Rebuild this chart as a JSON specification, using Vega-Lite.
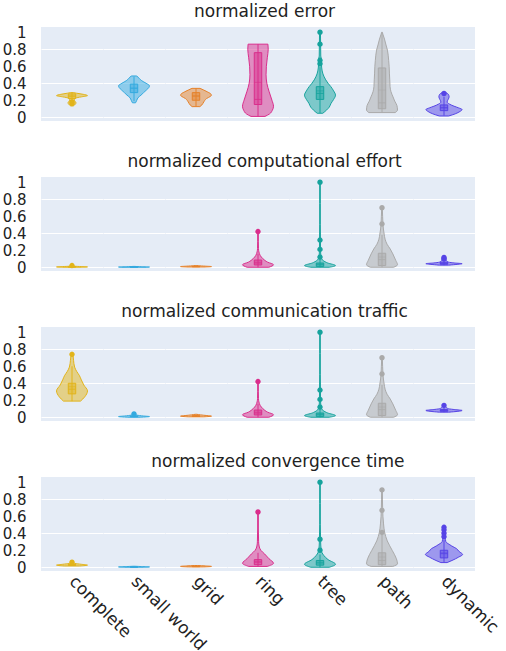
{
"$schema": "https://vega.github.io/schema/vega-lite/v6.json",
"background": "white",
"padding": {"left": 2, "top": 3, "right": 0, "bottom": 0},
"datasets": {
"d": [
{"m":"e","c":"complete","k":"v","y":0.135,"w":0.1,"nw":-0.1},
{"m":"e","c":"complete","k":"v","y":0.155,"w":0.22,"nw":-0.22},
{"m":"e","c":"complete","k":"v","y":0.17,"w":0.26,"nw":-0.26},
{"m":"e","c":"complete","k":"v","y":0.19,"w":0.18,"nw":-0.18},
{"m":"e","c":"complete","k":"v","y":0.21,"w":0.15,"nw":-0.15},
{"m":"e","c":"complete","k":"v","y":0.225,"w":0.22,"nw":-0.22},
{"m":"e","c":"complete","k":"v","y":0.24,"w":0.6,"nw":-0.6},
{"m":"e","c":"complete","k":"v","y":0.255,"w":1,"nw":-1},
{"m":"e","c":"complete","k":"v","y":0.27,"w":0.72,"nw":-0.72},
{"m":"e","c":"complete","k":"v","y":0.283,"w":0.3,"nw":-0.3},
{"m":"e","c":"complete","k":"v","y":0.29,"w":0.08,"nw":-0.08},
{"m":"e","c":"small world","k":"v","y":0.17,"w":0.1,"nw":-0.1},
{"m":"e","c":"small world","k":"v","y":0.2,"w":0.18,"nw":-0.18},
{"m":"e","c":"small world","k":"v","y":0.23,"w":0.26,"nw":-0.26},
{"m":"e","c":"small world","k":"v","y":0.26,"w":0.45,"nw":-0.45},
{"m":"e","c":"small world","k":"v","y":0.29,"w":0.62,"nw":-0.62},
{"m":"e","c":"small world","k":"v","y":0.32,"w":0.8,"nw":-0.8},
{"m":"e","c":"small world","k":"v","y":0.35,"w":0.96,"nw":-0.96},
{"m":"e","c":"small world","k":"v","y":0.37,"w":1,"nw":-1},
{"m":"e","c":"small world","k":"v","y":0.4,"w":0.78,"nw":-0.78},
{"m":"e","c":"small world","k":"v","y":0.43,"w":0.5,"nw":-0.5},
{"m":"e","c":"small world","k":"v","y":0.46,"w":0.32,"nw":-0.32},
{"m":"e","c":"small world","k":"v","y":0.486,"w":0.18,"nw":-0.18},
{"m":"e","c":"grid","k":"v","y":0.125,"w":0.25,"nw":-0.25},
{"m":"e","c":"grid","k":"v","y":0.145,"w":0.38,"nw":-0.38},
{"m":"e","c":"grid","k":"v","y":0.18,"w":0.5,"nw":-0.5},
{"m":"e","c":"grid","k":"v","y":0.22,"w":0.68,"nw":-0.68},
{"m":"e","c":"grid","k":"v","y":0.245,"w":0.92,"nw":-0.92},
{"m":"e","c":"grid","k":"v","y":0.26,"w":1,"nw":-1},
{"m":"e","c":"grid","k":"v","y":0.28,"w":0.92,"nw":-0.92},
{"m":"e","c":"grid","k":"v","y":0.3,"w":0.72,"nw":-0.72},
{"m":"e","c":"grid","k":"v","y":0.32,"w":0.5,"nw":-0.5},
{"m":"e","c":"grid","k":"v","y":0.34,"w":0.26,"nw":-0.26},
{"m":"e","c":"ring","k":"v","y":0.01,"w":0.45,"nw":-0.45},
{"m":"e","c":"ring","k":"v","y":0.04,"w":0.75,"nw":-0.75},
{"m":"e","c":"ring","k":"v","y":0.08,"w":0.92,"nw":-0.92},
{"m":"e","c":"ring","k":"v","y":0.13,"w":1,"nw":-1},
{"m":"e","c":"ring","k":"v","y":0.2,"w":0.9,"nw":-0.9},
{"m":"e","c":"ring","k":"v","y":0.3,"w":0.72,"nw":-0.72},
{"m":"e","c":"ring","k":"v","y":0.4,"w":0.57,"nw":-0.57},
{"m":"e","c":"ring","k":"v","y":0.5,"w":0.52,"nw":-0.52},
{"m":"e","c":"ring","k":"v","y":0.6,"w":0.54,"nw":-0.54},
{"m":"e","c":"ring","k":"v","y":0.7,"w":0.6,"nw":-0.6},
{"m":"e","c":"ring","k":"v","y":0.8,"w":0.66,"nw":-0.66},
{"m":"e","c":"ring","k":"v","y":0.86,"w":0.64,"nw":-0.64},
{"m":"e","c":"tree","k":"v","y":0.047,"w":0.18,"nw":-0.18},
{"m":"e","c":"tree","k":"v","y":0.086,"w":0.43,"nw":-0.43},
{"m":"e","c":"tree","k":"v","y":0.12,"w":0.6,"nw":-0.6},
{"m":"e","c":"tree","k":"v","y":0.163,"w":0.71,"nw":-0.71},
{"m":"e","c":"tree","k":"v","y":0.21,"w":0.88,"nw":-0.88},
{"m":"e","c":"tree","k":"v","y":0.26,"w":1,"nw":-1},
{"m":"e","c":"tree","k":"v","y":0.31,"w":0.88,"nw":-0.88},
{"m":"e","c":"tree","k":"v","y":0.36,"w":0.7,"nw":-0.7},
{"m":"e","c":"tree","k":"v","y":0.4,"w":0.52,"nw":-0.52},
{"m":"e","c":"tree","k":"v","y":0.44,"w":0.37,"nw":-0.37},
{"m":"e","c":"tree","k":"v","y":0.51,"w":0.19,"nw":-0.19},
{"m":"e","c":"tree","k":"v","y":0.58,"w":0.11,"nw":-0.11},
{"m":"e","c":"tree","k":"v","y":0.63,"w":0.09,"nw":-0.09},
{"m":"e","c":"tree","k":"v","y":0.67,"w":0.1,"nw":-0.1},
{"m":"e","c":"tree","k":"v","y":0.72,"w":0.05,"nw":-0.05},
{"m":"e","c":"tree","k":"v","y":0.85,"w":0.04,"nw":-0.04},
{"m":"e","c":"tree","k":"v","y":1,"w":0.03,"nw":-0.03},
{"m":"e","c":"path","k":"v","y":0.055,"w":0.85,"nw":-0.85},
{"m":"e","c":"path","k":"v","y":0.085,"w":1,"nw":-1},
{"m":"e","c":"path","k":"v","y":0.14,"w":0.96,"nw":-0.96},
{"m":"e","c":"path","k":"v","y":0.19,"w":0.82,"nw":-0.82},
{"m":"e","c":"path","k":"v","y":0.24,"w":0.71,"nw":-0.71},
{"m":"e","c":"path","k":"v","y":0.3,"w":0.58,"nw":-0.58},
{"m":"e","c":"path","k":"v","y":0.36,"w":0.52,"nw":-0.52},
{"m":"e","c":"path","k":"v","y":0.44,"w":0.5,"nw":-0.5},
{"m":"e","c":"path","k":"v","y":0.51,"w":0.48,"nw":-0.48},
{"m":"e","c":"path","k":"v","y":0.6,"w":0.46,"nw":-0.46},
{"m":"e","c":"path","k":"v","y":0.67,"w":0.43,"nw":-0.43},
{"m":"e","c":"path","k":"v","y":0.73,"w":0.4,"nw":-0.4},
{"m":"e","c":"path","k":"v","y":0.79,"w":0.35,"nw":-0.35},
{"m":"e","c":"path","k":"v","y":0.85,"w":0.26,"nw":-0.26},
{"m":"e","c":"path","k":"v","y":0.92,"w":0.16,"nw":-0.16},
{"m":"e","c":"path","k":"v","y":0.97,"w":0.07,"nw":-0.07},
{"m":"e","c":"path","k":"v","y":1,"w":0.02,"nw":-0.02},
{"m":"e","c":"dynamic","k":"v","y":0.015,"w":0.3,"nw":-0.3},
{"m":"e","c":"dynamic","k":"v","y":0.04,"w":0.72,"nw":-0.72},
{"m":"e","c":"dynamic","k":"v","y":0.07,"w":1.05,"nw":-1.05},
{"m":"e","c":"dynamic","k":"v","y":0.09,"w":1.17,"nw":-1.17},
{"m":"e","c":"dynamic","k":"v","y":0.11,"w":0.95,"nw":-0.95},
{"m":"e","c":"dynamic","k":"v","y":0.13,"w":0.65,"nw":-0.65},
{"m":"e","c":"dynamic","k":"v","y":0.155,"w":0.35,"nw":-0.35},
{"m":"e","c":"dynamic","k":"v","y":0.18,"w":0.2,"nw":-0.2},
{"m":"e","c":"dynamic","k":"v","y":0.21,"w":0.27,"nw":-0.27},
{"m":"e","c":"dynamic","k":"v","y":0.24,"w":0.33,"nw":-0.33},
{"m":"e","c":"dynamic","k":"v","y":0.27,"w":0.28,"nw":-0.28},
{"m":"e","c":"dynamic","k":"v","y":0.29,"w":0.12,"nw":-0.12},

{"m":"c","c":"complete","k":"v","y":0,"w":0.6,"nw":-0.6},
{"m":"c","c":"complete","k":"v","y":0.004,"w":1,"nw":-1},
{"m":"c","c":"complete","k":"v","y":0.008,"w":0.6,"nw":-0.6},
{"m":"c","c":"complete","k":"v","y":0.012,"w":0.2,"nw":-0.2},
{"m":"c","c":"complete","k":"v","y":0.018,"w":0.08,"nw":-0.08},
{"m":"c","c":"complete","k":"v","y":0.022,"w":0.03,"nw":-0.03},
{"m":"c","c":"small world","k":"v","y":0,"w":0.8,"nw":-0.8},
{"m":"c","c":"small world","k":"v","y":0.003,"w":1,"nw":-1},
{"m":"c","c":"small world","k":"v","y":0.006,"w":0.5,"nw":-0.5},
{"m":"c","c":"small world","k":"v","y":0.01,"w":0.05,"nw":-0.05},
{"m":"c","c":"grid","k":"v","y":0.003,"w":0.6,"nw":-0.6},
{"m":"c","c":"grid","k":"v","y":0.008,"w":1,"nw":-1},
{"m":"c","c":"grid","k":"v","y":0.013,"w":0.6,"nw":-0.6},
{"m":"c","c":"grid","k":"v","y":0.018,"w":0.15,"nw":-0.15},
{"m":"c","c":"grid","k":"v","y":0.02,"w":0.05,"nw":-0.05},
{"m":"c","c":"ring","k":"v","y":0,"w":0.7,"nw":-0.7},
{"m":"c","c":"ring","k":"v","y":0.03,"w":1,"nw":-1},
{"m":"c","c":"ring","k":"v","y":0.06,"w":0.62,"nw":-0.62},
{"m":"c","c":"ring","k":"v","y":0.1,"w":0.32,"nw":-0.32},
{"m":"c","c":"ring","k":"v","y":0.14,"w":0.14,"nw":-0.14},
{"m":"c","c":"ring","k":"v","y":0.18,"w":0.06,"nw":-0.06},
{"m":"c","c":"ring","k":"v","y":0.22,"w":0.03,"nw":-0.03},
{"m":"c","c":"ring","k":"v","y":0.3,"w":0.02,"nw":-0.02},
{"m":"c","c":"ring","k":"v","y":0.42,"w":0.02,"nw":-0.02},
{"m":"c","c":"tree","k":"v","y":0,"w":0.6,"nw":-0.6},
{"m":"c","c":"tree","k":"v","y":0.02,"w":1,"nw":-1},
{"m":"c","c":"tree","k":"v","y":0.05,"w":0.5,"nw":-0.5},
{"m":"c","c":"tree","k":"v","y":0.08,"w":0.2,"nw":-0.2},
{"m":"c","c":"tree","k":"v","y":0.12,"w":0.07,"nw":-0.07},
{"m":"c","c":"tree","k":"v","y":0.18,"w":0.04,"nw":-0.04},
{"m":"c","c":"tree","k":"v","y":0.3,"w":0.03,"nw":-0.03},
{"m":"c","c":"tree","k":"v","y":0.5,"w":0.02,"nw":-0.02},
{"m":"c","c":"tree","k":"v","y":0.75,"w":0.02,"nw":-0.02},
{"m":"c","c":"tree","k":"v","y":1,"w":0.02,"nw":-0.02},
{"m":"c","c":"path","k":"v","y":0,"w":0.75,"nw":-0.75},
{"m":"c","c":"path","k":"v","y":0.03,"w":1,"nw":-1},
{"m":"c","c":"path","k":"v","y":0.08,"w":0.89,"nw":-0.89},
{"m":"c","c":"path","k":"v","y":0.157,"w":0.7,"nw":-0.7},
{"m":"c","c":"path","k":"v","y":0.215,"w":0.53,"nw":-0.53},
{"m":"c","c":"path","k":"v","y":0.27,"w":0.33,"nw":-0.33},
{"m":"c","c":"path","k":"v","y":0.33,"w":0.2,"nw":-0.2},
{"m":"c","c":"path","k":"v","y":0.39,"w":0.14,"nw":-0.14},
{"m":"c","c":"path","k":"v","y":0.45,"w":0.09,"nw":-0.09},
{"m":"c","c":"path","k":"v","y":0.51,"w":0.06,"nw":-0.06},
{"m":"c","c":"path","k":"v","y":0.6,"w":0.04,"nw":-0.04},
{"m":"c","c":"path","k":"v","y":0.7,"w":0.02,"nw":-0.02},
{"m":"c","c":"dynamic","k":"v","y":0.025,"w":0.3,"nw":-0.3},
{"m":"c","c":"dynamic","k":"v","y":0.035,"w":0.9,"nw":-0.9},
{"m":"c","c":"dynamic","k":"v","y":0.042,"w":1.17,"nw":-1.17},
{"m":"c","c":"dynamic","k":"v","y":0.05,"w":0.7,"nw":-0.7},
{"m":"c","c":"dynamic","k":"v","y":0.06,"w":0.3,"nw":-0.3},
{"m":"c","c":"dynamic","k":"v","y":0.08,"w":0.15,"nw":-0.15},
{"m":"c","c":"dynamic","k":"v","y":0.1,"w":0.12,"nw":-0.12},
{"m":"c","c":"dynamic","k":"v","y":0.115,"w":0.05,"nw":-0.05},

{"m":"t","c":"complete","k":"v","y":0.19,"w":0.55,"nw":-0.55},
{"m":"t","c":"complete","k":"v","y":0.24,"w":0.82,"nw":-0.82},
{"m":"t","c":"complete","k":"v","y":0.31,"w":1,"nw":-1},
{"m":"t","c":"complete","k":"v","y":0.38,"w":0.76,"nw":-0.76},
{"m":"t","c":"complete","k":"v","y":0.44,"w":0.6,"nw":-0.6},
{"m":"t","c":"complete","k":"v","y":0.49,"w":0.48,"nw":-0.48},
{"m":"t","c":"complete","k":"v","y":0.54,"w":0.3,"nw":-0.3},
{"m":"t","c":"complete","k":"v","y":0.59,"w":0.17,"nw":-0.17},
{"m":"t","c":"complete","k":"v","y":0.67,"w":0.1,"nw":-0.1},
{"m":"t","c":"complete","k":"v","y":0.72,"w":0.07,"nw":-0.07},
{"m":"t","c":"complete","k":"v","y":0.765,"w":0.04,"nw":-0.04},
{"m":"t","c":"small world","k":"v","y":0,"w":0.4,"nw":-0.4},
{"m":"t","c":"small world","k":"v","y":0.008,"w":1,"nw":-1},
{"m":"t","c":"small world","k":"v","y":0.015,"w":0.6,"nw":-0.6},
{"m":"t","c":"small world","k":"v","y":0.025,"w":0.2,"nw":-0.2},
{"m":"t","c":"small world","k":"v","y":0.035,"w":0.1,"nw":-0.1},
{"m":"t","c":"small world","k":"v","y":0.045,"w":0.05,"nw":-0.05},
{"m":"t","c":"grid","k":"v","y":0.005,"w":0.5,"nw":-0.5},
{"m":"t","c":"grid","k":"v","y":0.013,"w":1,"nw":-1},
{"m":"t","c":"grid","k":"v","y":0.02,"w":0.7,"nw":-0.7},
{"m":"t","c":"grid","k":"v","y":0.028,"w":0.3,"nw":-0.3},
{"m":"t","c":"grid","k":"v","y":0.035,"w":0.05,"nw":-0.05},
{"m":"t","c":"ring","k":"v","y":0,"w":0.7,"nw":-0.7},
{"m":"t","c":"ring","k":"v","y":0.03,"w":1,"nw":-1},
{"m":"t","c":"ring","k":"v","y":0.06,"w":0.62,"nw":-0.62},
{"m":"t","c":"ring","k":"v","y":0.1,"w":0.32,"nw":-0.32},
{"m":"t","c":"ring","k":"v","y":0.14,"w":0.14,"nw":-0.14},
{"m":"t","c":"ring","k":"v","y":0.18,"w":0.06,"nw":-0.06},
{"m":"t","c":"ring","k":"v","y":0.22,"w":0.03,"nw":-0.03},
{"m":"t","c":"ring","k":"v","y":0.3,"w":0.02,"nw":-0.02},
{"m":"t","c":"ring","k":"v","y":0.42,"w":0.02,"nw":-0.02},
{"m":"t","c":"tree","k":"v","y":0,"w":0.6,"nw":-0.6},
{"m":"t","c":"tree","k":"v","y":0.02,"w":1,"nw":-1},
{"m":"t","c":"tree","k":"v","y":0.05,"w":0.5,"nw":-0.5},
{"m":"t","c":"tree","k":"v","y":0.08,"w":0.2,"nw":-0.2},
{"m":"t","c":"tree","k":"v","y":0.12,"w":0.07,"nw":-0.07},
{"m":"t","c":"tree","k":"v","y":0.18,"w":0.04,"nw":-0.04},
{"m":"t","c":"tree","k":"v","y":0.3,"w":0.03,"nw":-0.03},
{"m":"t","c":"tree","k":"v","y":0.5,"w":0.02,"nw":-0.02},
{"m":"t","c":"tree","k":"v","y":0.75,"w":0.02,"nw":-0.02},
{"m":"t","c":"tree","k":"v","y":1,"w":0.02,"nw":-0.02},
{"m":"t","c":"path","k":"v","y":0,"w":0.75,"nw":-0.75},
{"m":"t","c":"path","k":"v","y":0.03,"w":1,"nw":-1},
{"m":"t","c":"path","k":"v","y":0.08,"w":0.89,"nw":-0.89},
{"m":"t","c":"path","k":"v","y":0.157,"w":0.7,"nw":-0.7},
{"m":"t","c":"path","k":"v","y":0.215,"w":0.53,"nw":-0.53},
{"m":"t","c":"path","k":"v","y":0.27,"w":0.33,"nw":-0.33},
{"m":"t","c":"path","k":"v","y":0.33,"w":0.2,"nw":-0.2},
{"m":"t","c":"path","k":"v","y":0.39,"w":0.14,"nw":-0.14},
{"m":"t","c":"path","k":"v","y":0.45,"w":0.09,"nw":-0.09},
{"m":"t","c":"path","k":"v","y":0.51,"w":0.06,"nw":-0.06},
{"m":"t","c":"path","k":"v","y":0.6,"w":0.04,"nw":-0.04},
{"m":"t","c":"path","k":"v","y":0.7,"w":0.02,"nw":-0.02},
{"m":"t","c":"dynamic","k":"v","y":0.06,"w":0.3,"nw":-0.3},
{"m":"t","c":"dynamic","k":"v","y":0.07,"w":0.9,"nw":-0.9},
{"m":"t","c":"dynamic","k":"v","y":0.08,"w":1.17,"nw":-1.17},
{"m":"t","c":"dynamic","k":"v","y":0.09,"w":0.7,"nw":-0.7},
{"m":"t","c":"dynamic","k":"v","y":0.1,"w":0.3,"nw":-0.3},
{"m":"t","c":"dynamic","k":"v","y":0.115,"w":0.15,"nw":-0.15},
{"m":"t","c":"dynamic","k":"v","y":0.13,"w":0.1,"nw":-0.1},
{"m":"t","c":"dynamic","k":"v","y":0.145,"w":0.04,"nw":-0.04},

{"m":"v","c":"complete","k":"v","y":0.015,"w":0.5,"nw":-0.5},
{"m":"v","c":"complete","k":"v","y":0.025,"w":1,"nw":-1},
{"m":"v","c":"complete","k":"v","y":0.035,"w":0.6,"nw":-0.6},
{"m":"v","c":"complete","k":"v","y":0.045,"w":0.2,"nw":-0.2},
{"m":"v","c":"complete","k":"v","y":0.055,"w":0.1,"nw":-0.1},
{"m":"v","c":"complete","k":"v","y":0.062,"w":0.05,"nw":-0.05},
{"m":"v","c":"small world","k":"v","y":0,"w":0.6,"nw":-0.6},
{"m":"v","c":"small world","k":"v","y":0.004,"w":1,"nw":-1},
{"m":"v","c":"small world","k":"v","y":0.008,"w":0.5,"nw":-0.5},
{"m":"v","c":"small world","k":"v","y":0.012,"w":0.05,"nw":-0.05},
{"m":"v","c":"grid","k":"v","y":0.004,"w":0.5,"nw":-0.5},
{"m":"v","c":"grid","k":"v","y":0.01,"w":1,"nw":-1},
{"m":"v","c":"grid","k":"v","y":0.016,"w":0.6,"nw":-0.6},
{"m":"v","c":"grid","k":"v","y":0.02,"w":0.1,"nw":-0.1},
{"m":"v","c":"ring","k":"v","y":0.01,"w":0.6,"nw":-0.6},
{"m":"v","c":"ring","k":"v","y":0.047,"w":1,"nw":-1},
{"m":"v","c":"ring","k":"v","y":0.1,"w":0.71,"nw":-0.71},
{"m":"v","c":"ring","k":"v","y":0.156,"w":0.43,"nw":-0.43},
{"m":"v","c":"ring","k":"v","y":0.2,"w":0.18,"nw":-0.18},
{"m":"v","c":"ring","k":"v","y":0.25,"w":0.07,"nw":-0.07},
{"m":"v","c":"ring","k":"v","y":0.3,"w":0.04,"nw":-0.04},
{"m":"v","c":"ring","k":"v","y":0.45,"w":0.02,"nw":-0.02},
{"m":"v","c":"ring","k":"v","y":0.65,"w":0.02,"nw":-0.02},
{"m":"v","c":"tree","k":"v","y":0,"w":0.6,"nw":-0.6},
{"m":"v","c":"tree","k":"v","y":0.035,"w":1,"nw":-1},
{"m":"v","c":"tree","k":"v","y":0.09,"w":0.52,"nw":-0.52},
{"m":"v","c":"tree","k":"v","y":0.14,"w":0.24,"nw":-0.24},
{"m":"v","c":"tree","k":"v","y":0.2,"w":0.08,"nw":-0.08},
{"m":"v","c":"tree","k":"v","y":0.3,"w":0.04,"nw":-0.04},
{"m":"v","c":"tree","k":"v","y":0.5,"w":0.02,"nw":-0.02},
{"m":"v","c":"tree","k":"v","y":0.75,"w":0.02,"nw":-0.02},
{"m":"v","c":"tree","k":"v","y":1,"w":0.02,"nw":-0.02},
{"m":"v","c":"path","k":"v","y":0.01,"w":0.7,"nw":-0.7},
{"m":"v","c":"path","k":"v","y":0.04,"w":1,"nw":-1},
{"m":"v","c":"path","k":"v","y":0.1,"w":0.93,"nw":-0.93},
{"m":"v","c":"path","k":"v","y":0.195,"w":0.67,"nw":-0.67},
{"m":"v","c":"path","k":"v","y":0.31,"w":0.34,"nw":-0.34},
{"m":"v","c":"path","k":"v","y":0.41,"w":0.17,"nw":-0.17},
{"m":"v","c":"path","k":"v","y":0.51,"w":0.1,"nw":-0.1},
{"m":"v","c":"path","k":"v","y":0.6,"w":0.06,"nw":-0.06},
{"m":"v","c":"path","k":"v","y":0.7,"w":0.04,"nw":-0.04},
{"m":"v","c":"path","k":"v","y":0.8,"w":0.03,"nw":-0.03},
{"m":"v","c":"path","k":"v","y":0.91,"w":0.02,"nw":-0.02},
{"m":"v","c":"dynamic","k":"v","y":0.055,"w":0.2,"nw":-0.2},
{"m":"v","c":"dynamic","k":"v","y":0.08,"w":0.52,"nw":-0.52},
{"m":"v","c":"dynamic","k":"v","y":0.12,"w":0.95,"nw":-0.95},
{"m":"v","c":"dynamic","k":"v","y":0.15,"w":1.2,"nw":-1.2},
{"m":"v","c":"dynamic","k":"v","y":0.185,"w":0.98,"nw":-0.98},
{"m":"v","c":"dynamic","k":"v","y":0.22,"w":0.8,"nw":-0.8},
{"m":"v","c":"dynamic","k":"v","y":0.25,"w":0.5,"nw":-0.5},
{"m":"v","c":"dynamic","k":"v","y":0.27,"w":0.33,"nw":-0.33},
{"m":"v","c":"dynamic","k":"v","y":0.3,"w":0.12,"nw":-0.12},
{"m":"v","c":"dynamic","k":"v","y":0.35,"w":0.08,"nw":-0.08},
{"m":"v","c":"dynamic","k":"v","y":0.4,"w":0.07,"nw":-0.07},
{"m":"v","c":"dynamic","k":"v","y":0.44,"w":0.07,"nw":-0.07},
{"m":"v","c":"dynamic","k":"v","y":0.48,"w":0.05,"nw":-0.05},

{"m":"e","c":"complete","k":"b","lo":0.2,"q1":0.22,"md":0.25,"mn":0.245,"q3":0.275,"hi":0.29},
{"m":"e","c":"small world","k":"b","lo":0.19,"q1":0.29,"md":0.34,"mn":0.345,"q3":0.39,"hi":0.48},
{"m":"e","c":"grid","k":"b","lo":0.13,"q1":0.2,"md":0.25,"mn":0.25,"q3":0.29,"hi":0.34},
{"m":"e","c":"ring","k":"b","lo":0.01,"q1":0.15,"md":0.21,"mn":0.41,"q3":0.76,"hi":0.86},
{"m":"e","c":"tree","k":"b","lo":0.05,"q1":0.21,"md":0.28,"mn":0.31,"q3":0.36,"hi":0.59},
{"m":"e","c":"path","k":"b","lo":0.06,"q1":0.1,"md":0.17,"mn":0.32,"q3":0.58,"hi":1.0},
{"m":"e","c":"dynamic","k":"b","lo":0.02,"q1":0.078,"md":0.11,"mn":0.115,"q3":0.145,"hi":0.24},
{"m":"c","c":"complete","k":"b","lo":0,"q1":0.003,"md":0.005,"mn":0.006,"q3":0.008,"hi":0.015},
{"m":"c","c":"small world","k":"b","lo":0,"q1":0.001,"md":0.002,"mn":0.003,"q3":0.004,"hi":0.007},
{"m":"c","c":"grid","k":"b","lo":0.003,"q1":0.006,"md":0.008,"mn":0.009,"q3":0.011,"hi":0.016},
{"m":"c","c":"ring","k":"b","lo":0,"q1":0.027,"md":0.05,"mn":0.06,"q3":0.085,"hi":0.16},
{"m":"c","c":"tree","k":"b","lo":0,"q1":0.01,"md":0.03,"mn":0.04,"q3":0.05,"hi":0.1},
{"m":"c","c":"path","k":"b","lo":0,"q1":0.02,"md":0.09,"mn":0.12,"q3":0.165,"hi":0.38},
{"m":"c","c":"dynamic","k":"b","lo":0.025,"q1":0.035,"md":0.045,"mn":0.05,"q3":0.06,"hi":0.09},
{"m":"t","c":"complete","k":"b","lo":0.19,"q1":0.275,"md":0.33,"mn":0.36,"q3":0.4,"hi":0.6},
{"m":"t","c":"small world","k":"b","lo":0,"q1":0.005,"md":0.01,"mn":0.012,"q3":0.015,"hi":0.03},
{"m":"t","c":"grid","k":"b","lo":0.005,"q1":0.01,"md":0.013,"mn":0.014,"q3":0.018,"hi":0.03},
{"m":"t","c":"ring","k":"b","lo":0,"q1":0.027,"md":0.05,"mn":0.06,"q3":0.085,"hi":0.16},
{"m":"t","c":"tree","k":"b","lo":0,"q1":0.01,"md":0.03,"mn":0.04,"q3":0.05,"hi":0.1},
{"m":"t","c":"path","k":"b","lo":0,"q1":0.02,"md":0.09,"mn":0.12,"q3":0.165,"hi":0.38},
{"m":"t","c":"dynamic","k":"b","lo":0.06,"q1":0.07,"md":0.08,"mn":0.085,"q3":0.09,"hi":0.12},
{"m":"v","c":"complete","k":"b","lo":0.015,"q1":0.022,"md":0.028,"mn":0.03,"q3":0.035,"hi":0.05},
{"m":"v","c":"small world","k":"b","lo":0,"q1":0.002,"md":0.004,"mn":0.004,"q3":0.006,"hi":0.01},
{"m":"v","c":"grid","k":"b","lo":0.004,"q1":0.007,"md":0.01,"mn":0.01,"q3":0.013,"hi":0.02},
{"m":"v","c":"ring","k":"b","lo":0.01,"q1":0.03,"md":0.06,"mn":0.07,"q3":0.09,"hi":0.17},
{"m":"v","c":"tree","k":"b","lo":0,"q1":0.025,"md":0.05,"mn":0.06,"q3":0.08,"hi":0.15},
{"m":"v","c":"path","k":"b","lo":0.01,"q1":0.03,"md":0.08,"mn":0.12,"q3":0.17,"hi":0.38},
{"m":"v","c":"dynamic","k":"b","lo":0.06,"q1":0.11,"md":0.16,"mn":0.17,"q3":0.2,"hi":0.32},

{"m":"e","c":"complete","k":"o","y":0.18},
{"m":"e","c":"complete","k":"o","y":0.16},
{"m":"e","c":"tree","k":"o","y":1.0},
{"m":"e","c":"tree","k":"o","y":0.86},
{"m":"e","c":"tree","k":"o","y":0.67},
{"m":"e","c":"tree","k":"o","y":0.63},
{"m":"e","c":"dynamic","k":"o","y":0.28},
{"m":"c","c":"complete","k":"o","y":0.02},
{"m":"c","c":"ring","k":"o","y":0.42},
{"m":"c","c":"tree","k":"o","y":1.0},
{"m":"c","c":"tree","k":"o","y":0.32},
{"m":"c","c":"tree","k":"o","y":0.21},
{"m":"c","c":"tree","k":"o","y":0.12},
{"m":"c","c":"path","k":"o","y":0.7},
{"m":"c","c":"path","k":"o","y":0.51},
{"m":"c","c":"dynamic","k":"o","y":0.115},
{"m":"c","c":"dynamic","k":"o","y":0.1},
{"m":"t","c":"complete","k":"o","y":0.74},
{"m":"t","c":"small world","k":"o","y":0.04},
{"m":"t","c":"ring","k":"o","y":0.42},
{"m":"t","c":"tree","k":"o","y":1.0},
{"m":"t","c":"tree","k":"o","y":0.32},
{"m":"t","c":"tree","k":"o","y":0.21},
{"m":"t","c":"tree","k":"o","y":0.12},
{"m":"t","c":"path","k":"o","y":0.7},
{"m":"t","c":"path","k":"o","y":0.51},
{"m":"t","c":"dynamic","k":"o","y":0.14},
{"m":"v","c":"complete","k":"o","y":0.06},
{"m":"v","c":"ring","k":"o","y":0.65},
{"m":"v","c":"tree","k":"o","y":1.0},
{"m":"v","c":"tree","k":"o","y":0.33},
{"m":"v","c":"tree","k":"o","y":0.2},
{"m":"v","c":"path","k":"o","y":0.91},
{"m":"v","c":"path","k":"o","y":0.67},
{"m":"v","c":"path","k":"o","y":0.41},
{"m":"v","c":"dynamic","k":"o","y":0.47},
{"m":"v","c":"dynamic","k":"o","y":0.44},
{"m":"v","c":"dynamic","k":"o","y":0.4},
{"m":"v","c":"dynamic","k":"o","y":0.36}
]
},
"vconcat": [
{
"title": {"text": "normalized error", "dx": 26},
"spacing": 0,
"hconcat": [
{"data": {"name": "d"}, "transform": [{"filter": "datum.m === 'e' && datum.k === 'v'"}], "width": 1, "height": 94, "view": {"fill": null, "stroke": null},
 "mark": {"type": "point", "opacity": 0},
 "encoding": {"y": {"field": "y", "type": "quantitative", "title": null, "scale": {"domain": [-0.044, 1.062], "nice": false, "zero": false}, "axis": {"values": [0,0.2,0.4,0.6,0.8,1], "format": "~g", "grid": false, "labelOverlap": false, "labelPadding": 11}}}},
{
"data": {"name": "d"},
"transform": [{"filter": "datum.m === 'e'"}],
"facet": {"column": {"field": "c", "type": "nominal", "title": null, "sort": ["complete","small world","grid","ring","tree","path","dynamic"], "header": {"labels": false}}},
"spacing": {"column": 0, "row": 0},
"spec": {"width": 62, "height": 94, "layer": [
{"transform": [{"filter": "datum.k === 'v'"}], "mark": {"type": "area", "orient": "horizontal", "interpolate": "monotone", "fillOpacity": 0.5, "strokeWidth": 1},
 "encoding": {"y": {"field": "y", "type": "quantitative", "title": null, "scale": {"domain": [-0.044, 1.062], "nice": false, "zero": false}, "axis": {"values": [0,0.2,0.4,0.6,0.8,1], "labels": false}},
  "x": {"field": "w", "type": "quantitative", "scale": {"domain": [-1.77, 1.77]}, "axis": null}, "x2": {"field": "nw"},
  "fill": {"field": "c", "type": "nominal", "legend": null, "scale": {"domain": ["complete","small world","grid","ring","tree","path","dynamic"], "range": ["#E2B41A","#34AADF","#E6822A","#DA2E8C","#16A39D","#AAAAAA","#5644E6"]}},
  "stroke": {"field": "c", "type": "nominal", "legend": null, "scale": {"domain": ["complete","small world","grid","ring","tree","path","dynamic"], "range": ["#E2B41A","#34AADF","#E6822A","#DA2E8C","#16A39D","#AAAAAA","#5644E6"]}}}},
{"transform": [{"filter": "datum.k === 'b'"}], "mark": {"type": "rule", "strokeWidth": 1},
 "encoding": {"x": {"datum": 0}, "y": {"field": "lo", "type": "quantitative", "title": null}, "y2": {"field": "hi"}, "stroke": {"field": "c", "type": "nominal", "legend": null}}},
{"transform": [{"filter": "datum.k === 'b'"}], "mark": {"type": "rect", "fillOpacity": 0.5, "strokeWidth": 1},
 "encoding": {"x": {"datum": -0.24}, "x2": {"datum": 0.24}, "y": {"field": "q1", "type": "quantitative", "title": null}, "y2": {"field": "q3"}, "fill": {"field": "c", "type": "nominal", "legend": null}, "stroke": {"field": "c", "type": "nominal", "legend": null}}},
{"transform": [{"filter": "datum.k === 'b'"}], "mark": {"type": "rule", "strokeWidth": 1, "opacity": 0.8},
 "encoding": {"x": {"datum": -0.24}, "x2": {"datum": 0.24}, "y": {"field": "md", "type": "quantitative", "title": null}, "stroke": {"field": "c", "type": "nominal", "legend": null}}},
{"transform": [{"filter": "datum.k === 'b'"}], "mark": {"type": "rule", "strokeWidth": 1, "opacity": 0.5},
 "encoding": {"x": {"datum": -0.24}, "x2": {"datum": 0.24}, "y": {"field": "mn", "type": "quantitative", "title": null}, "stroke": {"field": "c", "type": "nominal", "legend": null}}},
{"transform": [{"filter": "datum.k === 'o'"}], "mark": {"type": "point", "filled": true, "size": 12, "opacity": 1},
 "encoding": {"x": {"datum": 0}, "y": {"field": "y", "type": "quantitative", "title": null}, "fill": {"field": "c", "type": "nominal", "legend": null}, "stroke": {"field": "c", "type": "nominal", "legend": null}}}
]}
}
]
},
{
"title": {"text": "normalized computational effort", "dx": 26},
"spacing": 0,
"hconcat": [
{"data": {"name": "d"}, "transform": [{"filter": "datum.m === 'c' && datum.k === 'v'"}], "width": 1, "height": 94, "view": {"fill": null, "stroke": null},
 "mark": {"type": "point", "opacity": 0},
 "encoding": {"y": {"field": "y", "type": "quantitative", "title": null, "scale": {"domain": [-0.044, 1.062], "nice": false, "zero": false}, "axis": {"values": [0,0.2,0.4,0.6,0.8,1], "format": "~g", "grid": false, "labelOverlap": false, "labelPadding": 11}}}},
{
"data": {"name": "d"},
"transform": [{"filter": "datum.m === 'c'"}],
"facet": {"column": {"field": "c", "type": "nominal", "title": null, "sort": ["complete","small world","grid","ring","tree","path","dynamic"], "header": {"labels": false}}},
"spacing": {"column": 0, "row": 0},
"spec": {"width": 62, "height": 94, "layer": [
{"transform": [{"filter": "datum.k === 'v'"}], "mark": {"type": "area", "orient": "horizontal", "interpolate": "monotone", "fillOpacity": 0.5, "strokeWidth": 1},
 "encoding": {"y": {"field": "y", "type": "quantitative", "title": null, "scale": {"domain": [-0.044, 1.062], "nice": false, "zero": false}, "axis": {"values": [0,0.2,0.4,0.6,0.8,1], "labels": false}},
  "x": {"field": "w", "type": "quantitative", "scale": {"domain": [-1.77, 1.77]}, "axis": null}, "x2": {"field": "nw"},
  "fill": {"field": "c", "type": "nominal", "legend": null, "scale": {"domain": ["complete","small world","grid","ring","tree","path","dynamic"], "range": ["#E2B41A","#34AADF","#E6822A","#DA2E8C","#16A39D","#AAAAAA","#5644E6"]}},
  "stroke": {"field": "c", "type": "nominal", "legend": null, "scale": {"domain": ["complete","small world","grid","ring","tree","path","dynamic"], "range": ["#E2B41A","#34AADF","#E6822A","#DA2E8C","#16A39D","#AAAAAA","#5644E6"]}}}},
{"transform": [{"filter": "datum.k === 'b'"}], "mark": {"type": "rule", "strokeWidth": 1},
 "encoding": {"x": {"datum": 0}, "y": {"field": "lo", "type": "quantitative", "title": null}, "y2": {"field": "hi"}, "stroke": {"field": "c", "type": "nominal", "legend": null}}},
{"transform": [{"filter": "datum.k === 'b'"}], "mark": {"type": "rect", "fillOpacity": 0.5, "strokeWidth": 1},
 "encoding": {"x": {"datum": -0.24}, "x2": {"datum": 0.24}, "y": {"field": "q1", "type": "quantitative", "title": null}, "y2": {"field": "q3"}, "fill": {"field": "c", "type": "nominal", "legend": null}, "stroke": {"field": "c", "type": "nominal", "legend": null}}},
{"transform": [{"filter": "datum.k === 'b'"}], "mark": {"type": "rule", "strokeWidth": 1, "opacity": 0.8},
 "encoding": {"x": {"datum": -0.24}, "x2": {"datum": 0.24}, "y": {"field": "md", "type": "quantitative", "title": null}, "stroke": {"field": "c", "type": "nominal", "legend": null}}},
{"transform": [{"filter": "datum.k === 'b'"}], "mark": {"type": "rule", "strokeWidth": 1, "opacity": 0.5},
 "encoding": {"x": {"datum": -0.24}, "x2": {"datum": 0.24}, "y": {"field": "mn", "type": "quantitative", "title": null}, "stroke": {"field": "c", "type": "nominal", "legend": null}}},
{"transform": [{"filter": "datum.k === 'o'"}], "mark": {"type": "point", "filled": true, "size": 12, "opacity": 1},
 "encoding": {"x": {"datum": 0}, "y": {"field": "y", "type": "quantitative", "title": null}, "fill": {"field": "c", "type": "nominal", "legend": null}, "stroke": {"field": "c", "type": "nominal", "legend": null}}}
]}
}
]
},
{
"title": {"text": "normalized communication traffic", "dx": 26},
"spacing": 0,
"hconcat": [
{"data": {"name": "d"}, "transform": [{"filter": "datum.m === 't' && datum.k === 'v'"}], "width": 1, "height": 94, "view": {"fill": null, "stroke": null},
 "mark": {"type": "point", "opacity": 0},
 "encoding": {"y": {"field": "y", "type": "quantitative", "title": null, "scale": {"domain": [-0.044, 1.062], "nice": false, "zero": false}, "axis": {"values": [0,0.2,0.4,0.6,0.8,1], "format": "~g", "grid": false, "labelOverlap": false, "labelPadding": 11}}}},
{
"data": {"name": "d"},
"transform": [{"filter": "datum.m === 't'"}],
"facet": {"column": {"field": "c", "type": "nominal", "title": null, "sort": ["complete","small world","grid","ring","tree","path","dynamic"], "header": {"labels": false}}},
"spacing": {"column": 0, "row": 0},
"spec": {"width": 62, "height": 94, "layer": [
{"transform": [{"filter": "datum.k === 'v'"}], "mark": {"type": "area", "orient": "horizontal", "interpolate": "monotone", "fillOpacity": 0.5, "strokeWidth": 1},
 "encoding": {"y": {"field": "y", "type": "quantitative", "title": null, "scale": {"domain": [-0.044, 1.062], "nice": false, "zero": false}, "axis": {"values": [0,0.2,0.4,0.6,0.8,1], "labels": false}},
  "x": {"field": "w", "type": "quantitative", "scale": {"domain": [-1.77, 1.77]}, "axis": null}, "x2": {"field": "nw"},
  "fill": {"field": "c", "type": "nominal", "legend": null, "scale": {"domain": ["complete","small world","grid","ring","tree","path","dynamic"], "range": ["#E2B41A","#34AADF","#E6822A","#DA2E8C","#16A39D","#AAAAAA","#5644E6"]}},
  "stroke": {"field": "c", "type": "nominal", "legend": null, "scale": {"domain": ["complete","small world","grid","ring","tree","path","dynamic"], "range": ["#E2B41A","#34AADF","#E6822A","#DA2E8C","#16A39D","#AAAAAA","#5644E6"]}}}},
{"transform": [{"filter": "datum.k === 'b'"}], "mark": {"type": "rule", "strokeWidth": 1},
 "encoding": {"x": {"datum": 0}, "y": {"field": "lo", "type": "quantitative", "title": null}, "y2": {"field": "hi"}, "stroke": {"field": "c", "type": "nominal", "legend": null}}},
{"transform": [{"filter": "datum.k === 'b'"}], "mark": {"type": "rect", "fillOpacity": 0.5, "strokeWidth": 1},
 "encoding": {"x": {"datum": -0.24}, "x2": {"datum": 0.24}, "y": {"field": "q1", "type": "quantitative", "title": null}, "y2": {"field": "q3"}, "fill": {"field": "c", "type": "nominal", "legend": null}, "stroke": {"field": "c", "type": "nominal", "legend": null}}},
{"transform": [{"filter": "datum.k === 'b'"}], "mark": {"type": "rule", "strokeWidth": 1, "opacity": 0.8},
 "encoding": {"x": {"datum": -0.24}, "x2": {"datum": 0.24}, "y": {"field": "md", "type": "quantitative", "title": null}, "stroke": {"field": "c", "type": "nominal", "legend": null}}},
{"transform": [{"filter": "datum.k === 'b'"}], "mark": {"type": "rule", "strokeWidth": 1, "opacity": 0.5},
 "encoding": {"x": {"datum": -0.24}, "x2": {"datum": 0.24}, "y": {"field": "mn", "type": "quantitative", "title": null}, "stroke": {"field": "c", "type": "nominal", "legend": null}}},
{"transform": [{"filter": "datum.k === 'o'"}], "mark": {"type": "point", "filled": true, "size": 12, "opacity": 1},
 "encoding": {"x": {"datum": 0}, "y": {"field": "y", "type": "quantitative", "title": null}, "fill": {"field": "c", "type": "nominal", "legend": null}, "stroke": {"field": "c", "type": "nominal", "legend": null}}}
]}
}
]
},
{
"title": {"text": "normalized convergence time", "dx": 26},
"spacing": 0,
"hconcat": [
{"data": {"name": "d"}, "transform": [{"filter": "datum.m === 'v' && datum.k === 'v'"}], "width": 1, "height": 94, "view": {"fill": null, "stroke": null},
 "mark": {"type": "point", "opacity": 0},
 "encoding": {"y": {"field": "y", "type": "quantitative", "title": null, "scale": {"domain": [-0.044, 1.062], "nice": false, "zero": false}, "axis": {"values": [0,0.2,0.4,0.6,0.8,1], "format": "~g", "grid": false, "labelOverlap": false, "labelPadding": 11}}}},
{
"data": {"name": "d"},
"transform": [{"filter": "datum.m === 'v'"}],
"facet": {"column": {"field": "c", "type": "nominal", "title": null, "sort": ["complete","small world","grid","ring","tree","path","dynamic"], "header": {"labelOrient": "bottom", "labelAngle": 45, "labelAlign": "left", "labelBaseline": "middle", "labelFont": "DejaVu Sans", "labelFontSize": 17, "labelColor": "#222", "labelPadding": 8}}},
"spacing": {"column": 0, "row": 0},
"spec": {"width": 62, "height": 94, "layer": [
{"transform": [{"filter": "datum.k === 'v'"}], "mark": {"type": "area", "orient": "horizontal", "interpolate": "monotone", "fillOpacity": 0.5, "strokeWidth": 1},
 "encoding": {"y": {"field": "y", "type": "quantitative", "title": null, "scale": {"domain": [-0.044, 1.062], "nice": false, "zero": false}, "axis": {"values": [0,0.2,0.4,0.6,0.8,1], "labels": false}},
  "x": {"field": "w", "type": "quantitative", "scale": {"domain": [-1.77, 1.77]}, "axis": null}, "x2": {"field": "nw"},
  "fill": {"field": "c", "type": "nominal", "legend": null, "scale": {"domain": ["complete","small world","grid","ring","tree","path","dynamic"], "range": ["#E2B41A","#34AADF","#E6822A","#DA2E8C","#16A39D","#AAAAAA","#5644E6"]}},
  "stroke": {"field": "c", "type": "nominal", "legend": null, "scale": {"domain": ["complete","small world","grid","ring","tree","path","dynamic"], "range": ["#E2B41A","#34AADF","#E6822A","#DA2E8C","#16A39D","#AAAAAA","#5644E6"]}}}},
{"transform": [{"filter": "datum.k === 'b'"}], "mark": {"type": "rule", "strokeWidth": 1},
 "encoding": {"x": {"datum": 0}, "y": {"field": "lo", "type": "quantitative", "title": null}, "y2": {"field": "hi"}, "stroke": {"field": "c", "type": "nominal", "legend": null}}},
{"transform": [{"filter": "datum.k === 'b'"}], "mark": {"type": "rect", "fillOpacity": 0.5, "strokeWidth": 1},
 "encoding": {"x": {"datum": -0.24}, "x2": {"datum": 0.24}, "y": {"field": "q1", "type": "quantitative", "title": null}, "y2": {"field": "q3"}, "fill": {"field": "c", "type": "nominal", "legend": null}, "stroke": {"field": "c", "type": "nominal", "legend": null}}},
{"transform": [{"filter": "datum.k === 'b'"}], "mark": {"type": "rule", "strokeWidth": 1, "opacity": 0.8},
 "encoding": {"x": {"datum": -0.24}, "x2": {"datum": 0.24}, "y": {"field": "md", "type": "quantitative", "title": null}, "stroke": {"field": "c", "type": "nominal", "legend": null}}},
{"transform": [{"filter": "datum.k === 'b'"}], "mark": {"type": "rule", "strokeWidth": 1, "opacity": 0.5},
 "encoding": {"x": {"datum": -0.24}, "x2": {"datum": 0.24}, "y": {"field": "mn", "type": "quantitative", "title": null}, "stroke": {"field": "c", "type": "nominal", "legend": null}}},
{"transform": [{"filter": "datum.k === 'o'"}], "mark": {"type": "point", "filled": true, "size": 12, "opacity": 1},
 "encoding": {"x": {"datum": 0}, "y": {"field": "y", "type": "quantitative", "title": null}, "fill": {"field": "c", "type": "nominal", "legend": null}, "stroke": {"field": "c", "type": "nominal", "legend": null}}}
]}
}
]
}
],
"config": {
"view": {"fill": "#E5ECF6", "stroke": null},
"facet": {"spacing": 0},
"concat": {"spacing": 27},
"font": "DejaVu Sans",
"title": {"font": "DejaVu Sans", "fontSize": 17, "fontWeight": "normal", "color": "#222", "offset": 0, "anchor": "middle"},
"axis": {"grid": true, "gridColor": "white", "gridWidth": 1, "gridOpacity": 1, "domain": false, "ticks": false, "labelFont": "DejaVu Sans", "labelFontSize": 15, "labelColor": "#222", "labelPadding": 11, "labelOverlap": false}
}
}
